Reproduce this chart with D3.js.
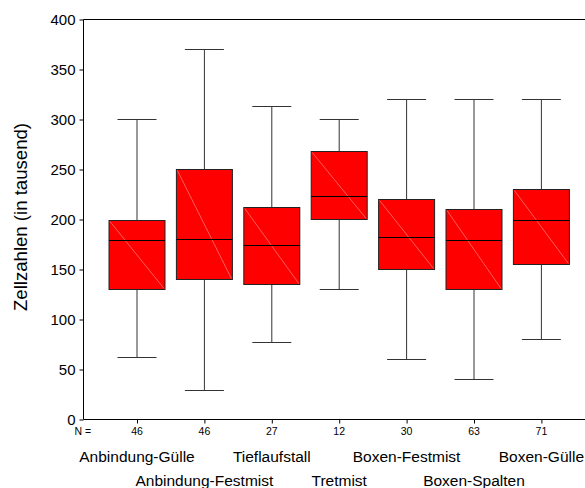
<!DOCTYPE html>
<html><head><meta charset="utf-8">
<script src="https://cdn.jsdelivr.net/npm/d3@7"></script>
<style>body{margin:0;background:#fff}svg{display:block}text{font-family:"Liberation Sans",Arial,sans-serif;fill:#000}</style>
</head><body>
<script>
const categories = ["Anbindung-Gülle","Anbindung-Festmist","Tieflaufstall","Tretmist","Boxen-Festmist","Boxen-Spalten","Boxen-Gülle"];
const nValues = [46,46,27,12,30,63,71];
const whiskerLow = [62,29,77,130,60,40,80];
const q1 = [130,140,135,200,150,130,155];
const median = [179,180,174,223,182,179,199];
const q3 = [199,250,212,268,220,210,230];
const whiskerHigh = [300,370,313,300,320,320,320];
const yTicks = [0,50,100,150,200,250,300,350,400];

const W = 585, H = 488;
const svg = d3.select("body").append("svg").attr("width", W).attr("height", H);
const x = d3.scalePoint().domain(categories).range([137, 541.4]);
const y = d3.scaleLinear().domain([0,400]).range([419.5, 19.5]);
const left = 83.5;
const boxW = 56, capW = 39;

const data = categories.map((c,i)=>({c, n:nValues[i], lo:whiskerLow[i], q1:q1[i], med:median[i], q3:q3[i], hi:whiskerHigh[i]}));

// frame lines
svg.append("line").attr("x1", left).attr("x2", W).attr("y1", y(400)).attr("y2", y(400)).attr("stroke","#000");
svg.append("line").attr("x1", left).attr("x2", W).attr("y1", y(0)).attr("y2", y(0)).attr("stroke","#000");
svg.append("line").attr("x1", left).attr("x2", left).attr("y1", y(400)).attr("y2", y(0)).attr("stroke","#000");

// y axis
const yAxis = d3.axisLeft(y).tickValues(yTicks).tickSize(4).tickPadding(4);
const ga = svg.append("g").attr("transform", `translate(${left},0)`).call(yAxis);
ga.select(".domain").remove();
ga.selectAll("text").style("font-size","15px").attr("fill","#000").attr("font-family","Liberation Sans, Arial, sans-serif");
ga.selectAll("line").attr("stroke","#000");

svg.append("text").attr("transform","translate(26.5,217) rotate(-90)").attr("text-anchor","middle")
  .style("font-size","18.6px").text("Zellzahlen (in tausend)");

// x ticks
const xAxis = d3.axisBottom(x).tickSize(4).tickFormat("");
const gx = svg.append("g").attr("transform", `translate(0,${y(0)})`).call(xAxis);
gx.select(".domain").remove();
gx.selectAll("line").attr("stroke","#000");

svg.append("text").attr("x",74.5).attr("y",435).style("font-size","10.5px").text("N =");
svg.selectAll("text.n").data(data).join("text").attr("class","n")
  .attr("x", d=>x(d.c)).attr("y",435).attr("text-anchor","middle").style("font-size","10.5px").text(d=>d.n);
svg.selectAll("text.cat").data(data).join("text").attr("class","cat")
  .attr("x", d=>x(d.c)).attr("y",(d,i)=> i%2===0 ? 461.5 : 485.5).attr("text-anchor","middle")
  .style("font-size","15.5px").text(d=>d.c);

// boxes
const g = svg.selectAll("g.box").data(data).join("g").attr("class","box");
g.append("line").attr("x1",d=>x(d.c)).attr("x2",d=>x(d.c)).attr("y1",d=>y(d.hi)).attr("y2",d=>y(d.q3)).attr("stroke","#333");
g.append("line").attr("x1",d=>x(d.c)).attr("x2",d=>x(d.c)).attr("y1",d=>y(d.q1)).attr("y2",d=>y(d.lo)).attr("stroke","#333");
g.append("line").attr("x1",d=>x(d.c)-capW/2).attr("x2",d=>x(d.c)+capW/2).attr("y1",d=>y(d.hi)).attr("y2",d=>y(d.hi)).attr("stroke","#333");
g.append("line").attr("x1",d=>x(d.c)-capW/2).attr("x2",d=>x(d.c)+capW/2).attr("y1",d=>y(d.lo)).attr("y2",d=>y(d.lo)).attr("stroke","#333");
g.append("rect").attr("x",d=>x(d.c)-boxW/2).attr("width",boxW).attr("y",d=>y(d.q3)).attr("height",d=>y(d.q1)-y(d.q3))
  .attr("fill","#ff0000").attr("stroke","#222");
g.append("line").attr("x1",d=>x(d.c)-boxW/2+1).attr("x2",d=>x(d.c)+boxW/2-1).attr("y1",d=>y(d.q3)+1).attr("y2",d=>y(d.q1)-1)
  .attr("stroke","#ff9a9a").attr("stroke-width",0.6);
g.append("line").attr("x1",d=>x(d.c)-boxW/2).attr("x2",d=>x(d.c)+boxW/2).attr("y1",d=>y(d.med)).attr("y2",d=>y(d.med)).attr("stroke","#000").attr("stroke-width",1);
</script>
</body></html>
